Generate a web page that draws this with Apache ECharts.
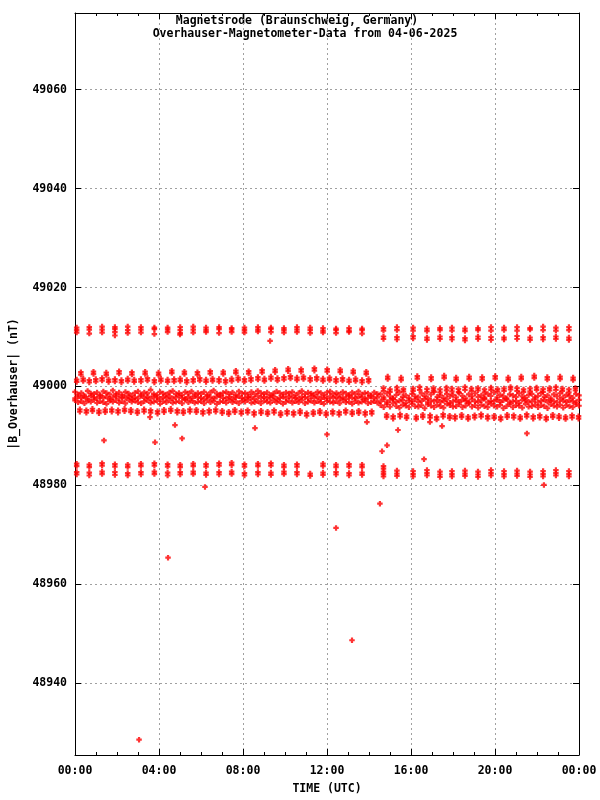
<!DOCTYPE html>
<html><head><meta charset="utf-8">
<script src="https://cdn.jsdelivr.net/npm/echarts@6/dist/echarts.min.js"></script>
<style>html,body{margin:0;padding:0;background:#fff}#c{width:600px;height:800px}</style>
</head><body><div id="c"></div>
<script>
const titleLines = ['Magnetsrode (Braunschweig, Germany)', 'Overhauser-Magnetometer-Data from 04-06-2025'];
const xTickLabels = ['00:00','04:00','08:00','12:00','16:00','20:00','00:00'];
const xName = 'TIME (UTC)';
const yName = '|B_Overhauser| (nT)';

// clump slots (hours)
const slotTimes = [0.08,0.68,1.29,1.90,2.51,3.14,3.78,4.41,5.01,5.63,6.24,6.86,7.46,8.07,8.71,9.33,9.95,10.57,11.20,11.81,12.43,13.05,13.67,14.69,15.33,16.10,16.76,17.38,17.95,18.57,19.19,19.81,20.43,21.05,21.67,22.29,22.90,23.52];
// upper band (~49011 nT)
const upperA = [49011.9,49012.0,49012.1,49012.0,49012.1,49012.0,49011.9,49011.9,49012.0,49012.1,49011.9,49012.0,49011.8,49011.9,49012.0,49011.9,49011.8,49012.0,49011.9,49011.8,49011.7,49011.8,49011.7,
  49011.8,49012.0,49011.9,49011.7,49011.8,49011.9,49011.7,49011.8,49012.0,49011.9,49012.0,49011.8,49012.1,49011.9,49012.0];
const upperB = [49011.4,49011.5,49011.5,49011.6,49011.4,49011.5,49011.6,49011.5,49011.4,49011.5,49011.4,49011.6,49011.5,49011.4,49011.5,49011.6,49011.4,49011.5,49011.4,49011.3,49011.4,49011.3,49011.4,
  49011.3,49011.4,49011.3,49011.2,49011.4,49011.3,49011.2,49011.4,49011.3,49011.4,49011.3,49011.5,49011.4,49011.3,49011.4];
const upperC = [49010.9,49010.7,49010.9,49011.0,49010.8,49010.9,49010.6,49011.0,49010.8,49010.9,49011.0,49010.8,49011.0,49010.9,49011.1,49011.0,49010.9,49011.0,49010.8,49010.9,49010.8,49011.0,49010.7,
  null,null,null,null,null,null,null,null,null,null,null,null,null,null,null];
const upperD = [null,null,null,null,null,null,null,null,null,null,null,null,null,null,null,null,null,null,null,null,null,null,null,
  49010.1,49010.0,49010.2,49009.9,49010.1,49010.0,49009.8,49010.1,49010.0,49009.9,49010.2,49009.9,49010.0,49010.1,49009.9];
const upperE = [null,null,null,null,null,null,null,null,null,null,null,null,null,null,null,null,null,null,null,null,null,null,null,
  49009.6,49009.5,49009.7,49009.4,49009.6,49009.5,49009.3,49009.6,49009.4,49009.5,49009.6,49009.4,49009.5,49009.6,49009.4];
// lower band (~48983 nT)
const lowerA = [48984.4,48984.2,48984.5,48984.3,48984.2,48984.4,48984.5,48984.3,48984.2,48984.4,48984.3,48984.5,48984.6,48984.3,48984.4,48984.5,48984.2,48984.3,null,48984.4,48984.2,48984.3,48984.2,
  48983.9,null,null,null,null,null,null,null,null,null,null,null,null,null,null];
const lowerB = [48983.9,48983.7,48984.0,48983.8,48983.7,48983.9,48984.0,48983.8,48983.7,48983.9,48983.8,48984.0,48984.1,48983.8,48983.9,48984.0,48983.7,48983.8,null,48983.9,48983.7,48983.8,48983.7,
  48983.4,null,null,null,null,null,null,null,null,null,null,null,null,null,null];
const lowerC = [48982.7,48982.6,48982.8,48982.7,48982.5,48982.7,48982.8,48982.6,48982.7,48982.8,48982.6,48982.7,48982.8,48982.5,48982.7,48982.6,48982.8,48982.7,48982.4,48982.6,48982.7,48982.5,48982.6,
  48982.8,48983.0,48982.9,48983.1,48982.8,48982.9,48983.0,48982.8,48983.1,48982.9,48983.0,48982.8,48982.9,48983.1,48982.9];
const lowerD = [48982.2,48982.0,48982.3,48982.1,48982.0,48982.2,48982.3,48982.0,48982.2,48982.3,48982.1,48982.2,48982.3,48982.0,48982.2,48982.1,48982.3,48982.2,48981.9,48982.1,48982.2,48982.0,48982.1,
  48982.3,48982.4,48982.3,48982.5,48982.2,48982.3,48982.4,48982.2,48982.5,48982.3,48982.4,48982.2,48982.3,48982.5,48982.3];
const lowerE = [null,null,null,null,null,null,null,null,null,null,null,null,null,null,null,null,null,null,null,null,null,null,null,
  48981.8,48981.9,48981.8,48982.0,48981.7,48981.8,48981.9,48981.7,48982.0,48981.8,48981.9,48981.7,48981.8,48982.0,48981.8];

// mid-high row (~49003 nT)
const midHighTimes = [0.28,0.88,1.49,2.10,2.71,3.34,3.98,4.61,5.21,5.83,6.44,7.06,7.66,8.27,8.91,9.53,10.15,10.77,11.40,12.01,12.63,13.25,13.87,14.89,15.53,16.30,16.96,17.58,18.15,18.77,19.39,20.01,20.63,21.25,21.87,22.49,23.10,23.72];
const midHighA = [49002.9,49003.0,49002.8,49003.1,49002.9,49003.0,49002.8,49003.2,49003.0,49002.9,49003.1,49003.0,49003.2,49003.1,49003.3,49003.4,49003.6,49003.5,49003.7,49003.5,49003.4,49003.2,49003.0,
  49002.0,49001.8,49002.1,49001.9,49002.2,49001.8,49002.0,49001.9,49002.1,49001.8,49002.0,49002.2,49001.9,49002.0,49001.8];
const midHighB = [49002.4,49002.5,49002.3,49002.6,49002.4,49002.5,49002.3,49002.7,49002.5,49002.4,49002.6,49002.5,49002.7,49002.6,49002.8,49002.9,49003.1,49003.0,49003.2,49003.0,49002.9,49002.7,49002.5,
  49001.5,49001.3,49001.6,49001.4,49001.7,49001.3,49001.5,49001.4,49001.6,49001.3,49001.5,49001.7,49001.4,49001.5,49001.3];

// mid row (~49001 nT)
const midTimes = [0.08,0.39,0.68,0.99,1.29,1.60,1.90,2.21,2.51,2.82,3.14,3.45,3.78,4.09,4.41,4.72,5.01,5.32,5.63,5.94,6.24,6.55,6.86,7.17,7.46,7.77,8.07,8.38,8.71,9.02,9.33,9.64,9.95,10.26,10.57,10.88,11.20,11.51,11.81,12.12,12.43,12.74,13.05,13.36,13.67,13.98,
  14.69,15.00,15.33,15.64,16.10,16.41,16.76,17.07,17.38,17.69,17.95,18.26,18.57,18.88,19.19,19.50,19.81,20.12,20.43,20.74,21.05,21.36,21.67,21.98,22.29,22.60,22.90,23.21,23.52,23.83];
const midRowA = [49001.4,49001.6,49001.3,49001.5,49001.7,49001.4,49001.5,49001.3,49001.6,49001.4,49001.5,49001.7,49001.3,49001.6,49001.4,49001.5,49001.6,49001.3,49001.5,49001.7,49001.4,49001.6,49001.5,49001.3,49001.6,49001.8,49001.5,49001.7,49001.9,49001.6,49002.0,49001.7,49001.9,49002.1,49001.8,49002.0,49001.7,49001.9,49001.6,49001.8,49001.5,49001.7,49001.4,49001.6,49001.3,49001.5,
  48999.7,48999.4,48999.8,48999.5,48999.6,48999.9,48999.5,48999.7,48999.4,48999.8,48999.6,48999.5,48999.9,48999.6,48999.7,48999.4,48999.8,48999.5,48999.6,48999.9,48999.7,48999.4,48999.6,48999.8,48999.5,48999.7,48999.9,48999.6,48999.4,48999.7];
const midRowB = [49000.9,49001.1,49000.8,49001.0,49001.2,49000.9,49001.0,49000.8,49001.1,49000.9,49001.0,49001.2,49000.8,49001.1,49000.9,49001.0,49001.1,49000.8,49001.0,49001.2,49000.9,49001.1,49001.0,49000.8,49001.1,49001.3,49001.0,49001.2,49001.4,49001.1,49001.5,49001.2,49001.4,49001.6,49001.3,49001.5,49001.2,49001.4,49001.1,49001.3,49001.0,49001.2,49000.9,49001.1,49000.8,49001.0,
  48999.1,48998.9,48999.2,48999.0,48999.1,48999.3,48998.9,48999.2,48998.8,48999.2,48999.0,48998.9,48999.3,48999.1,48999.2,48998.8,48999.3,48999.0,48999.1,48999.4,48999.1,48998.9,48999.0,48999.3,48998.9,48999.2,48999.3,48999.1,48998.8,48999.2];

// lower-mid row (~48995 nT)
const lowMidTimes = [0.23,0.54,0.83,1.14,1.44,1.75,2.05,2.36,2.66,2.97,3.29,3.60,3.93,4.24,4.56,4.87,5.16,5.47,5.78,6.09,6.39,6.70,7.01,7.32,7.61,7.92,8.22,8.53,8.86,9.17,9.48,9.79,10.10,10.41,10.72,11.03,11.35,11.66,11.96,12.27,12.58,12.89,13.20,13.51,13.82,14.13,
  14.84,15.15,15.48,15.79,16.25,16.56,16.91,17.22,17.53,17.84,18.10,18.41,18.72,19.03,19.34,19.65,19.96,20.27,20.58,20.89,21.20,21.51,21.82,22.13,22.44,22.75,23.05,23.36,23.67,23.98];
const midLowA = [48995.4,48995.2,48995.5,48995.1,48995.3,48995.4,48995.2,48995.5,48995.3,48995.1,48995.4,48995.2,48995.0,48995.3,48995.5,48995.2,48995.1,48995.4,48995.3,48995.0,48995.2,48995.4,48995.1,48994.9,48995.3,48995.0,48995.2,48994.8,48995.1,48994.9,48995.2,48994.7,48995.0,48994.8,48995.1,48994.6,48994.9,48995.1,48994.7,48995.0,48994.8,48995.2,48994.9,48995.1,48994.8,48995.0,
  48994.3,48994.0,48994.4,48994.1,48993.9,48994.3,48994.2,48993.8,48994.4,48994.1,48994.0,48994.3,48993.9,48994.2,48994.4,48994.0,48994.1,48993.8,48994.3,48994.2,48993.9,48994.4,48994.0,48994.2,48993.8,48994.3,48994.1,48993.9,48994.2,48994.0];
const midLowB = [48994.9,48994.7,48995.0,48994.6,48994.8,48994.9,48994.7,48995.0,48994.8,48994.6,48994.9,48994.7,48994.5,48994.8,48995.0,48994.7,48994.6,48994.9,48994.8,48994.5,48994.7,48994.9,48994.6,48994.4,48994.8,48994.5,48994.7,48994.3,48994.6,48994.4,48994.7,48994.2,48994.5,48994.3,48994.6,48994.1,48994.4,48994.6,48994.2,48994.5,48994.3,48994.7,48994.4,48994.6,48994.3,48994.5,
  48993.8,48993.5,48993.9,48993.6,48993.4,48993.8,48993.7,48993.3,48993.9,48993.6,48993.5,48993.8,48993.4,48993.7,48993.9,48993.5,48993.6,48993.3,48993.8,48993.7,48993.4,48993.9,48993.5,48993.7,48993.3,48993.8,48993.6,48993.4,48993.7,48993.5];

// dense main band (~48997.5 nT)
const denseTimes = [0,0.15,0.3,0.45,0.6,0.75,0.9,1.05,1.2,1.35,1.5,1.65,1.8,1.95,2.1,2.25,2.4,2.55,2.7,2.85,
  3,3.15,3.3,3.45,3.6,3.75,3.9,4.05,4.2,4.35,4.5,4.65,4.8,4.95,5.1,5.25,5.4,5.55,5.7,5.85,
  6,6.15,6.3,6.45,6.6,6.75,6.9,7.05,7.2,7.35,7.5,7.65,7.8,7.95,8.1,8.25,8.4,8.55,8.7,8.85,
  9,9.15,9.3,9.45,9.6,9.75,9.9,10.05,10.2,10.35,10.5,10.65,10.8,10.95,11.1,11.25,11.4,11.55,11.7,11.85,
  12,12.15,12.3,12.45,12.6,12.75,12.9,13.05,13.2,13.35,13.5,13.65,13.8,13.95,14.1,14.25,14.4,
  14.55,14.7,14.85,15,15.15,15.3,15.45,15.6,15.75,15.9,16.05,16.2,16.35,16.5,16.65,16.8,16.95,17.1,17.25,17.4,
  17.55,17.7,17.85,18,18.15,18.3,18.45,18.6,18.75,18.9,19.05,19.2,19.35,19.5,19.65,19.8,19.95,20.1,20.25,20.4,
  20.55,20.7,20.85,21,21.15,21.3,21.45,21.6,21.75,21.9,22.05,22.2,22.35,22.5,22.65,22.8,22.95,23.1,23.25,23.4,
  23.55,23.7,23.85,24];
const denseTop = [48998.9,48998.4,48998.7,48998.2,48999.1,48998.6,48998.5,48998.8,48998.3,48999.0,
  48998.7,48998.4,48999.2,48998.5,48998.8,48998.3,48998.9,48998.6,48998.2,48998.7,
  48999.0,48998.4,48998.8,48998.6,48999.3,48998.5,48998.3,48998.9,48998.6,48998.4,
  48998.8,48999.1,48998.5,48998.7,48998.3,48998.9,48998.6,48999.0,48998.4,48998.7,
  48998.5,48998.9,48998.3,48998.8,48999.2,48998.6,48998.4,48998.7,48998.9,48998.5,
  48998.8,48998.3,48999.0,48998.6,48998.7,48998.4,48998.9,48998.5,48999.1,48998.7,
  48998.5,48998.8,48998.3,48998.6,48999.0,48998.7,48998.4,48998.8,48998.6,48998.9,
  48998.3,48998.7,48999.1,48998.5,48998.8,48998.6,48998.4,48998.9,48998.7,48998.3,
  48998.8,48999.0,48998.5,48998.7,48998.4,48998.9,48998.6,48998.3,48998.8,48998.5,
  48999.0,48998.4,48998.7,48998.6,48998.2,48998.8,48998.5,
  48998.4,48997.8,48998.6,48998.0,48997.6,48998.3,48998.8,48997.9,48998.2,48997.7,
  48998.5,48998.0,48997.8,48998.6,48998.1,48997.6,48998.4,48998.9,48997.9,48998.2,
  48997.7,48998.5,48998.0,48998.3,48997.8,48998.7,48998.1,48997.6,48998.4,48998.0,
  48998.6,48997.9,48998.2,48997.7,48998.5,48998.1,48998.8,48997.8,48998.3,48998.0,
  48997.6,48998.4,48998.2,48997.9,48998.6,48998.0,48997.7,48998.3,48998.5,48997.8,
  48998.1,48998.7,48997.9,48998.2,48997.6,48998.4,48998.0,48998.6,48997.8,48998.3,
  48998.1,48997.7,48998.5,48998.2];
const denseMid = [48997.6,48998.0,48997.7,48997.9,48997.5,48998.1,48997.8,48997.6,48998.0,48997.7,
  48997.9,48997.5,48997.8,48998.1,48997.6,48997.9,48997.7,48998.0,48997.5,48997.8,
  48997.6,48998.1,48997.7,48997.9,48997.6,48998.0,48997.8,48997.5,48997.9,48997.7,
  48998.0,48997.6,48997.8,48998.1,48997.7,48997.5,48997.9,48997.6,48998.0,48997.8,
  48997.7,48997.5,48998.0,48997.8,48997.6,48997.9,48998.1,48997.7,48997.6,48997.9,
  48997.5,48997.8,48998.0,48997.7,48997.6,48997.9,48997.8,48997.5,48998.1,48997.7,
  48997.9,48997.6,48997.8,48998.0,48997.5,48997.7,48997.9,48997.6,48998.0,48997.8,
  48997.7,48997.5,48997.9,48997.8,48997.6,48998.1,48997.7,48997.9,48997.5,48997.8,
  48997.6,48998.0,48997.7,48997.9,48997.6,48997.8,48997.5,48998.0,48997.7,48997.6,
  48997.9,48997.8,48997.5,48997.7,48998.0,48997.6,48997.8,
  48997.0,48997.4,48996.8,48997.2,48997.5,48996.9,48997.1,48997.3,48996.7,48997.2,
  48997.0,48997.4,48996.9,48997.1,48997.5,48996.8,48997.2,48997.0,48997.3,48996.9,
  48997.1,48997.4,48996.7,48997.0,48997.2,48996.9,48997.3,48997.1,48996.8,48997.4,
  48997.0,48996.9,48997.2,48997.5,48996.8,48997.1,48997.0,48997.3,48996.9,48997.2,
  48997.4,48996.8,48997.0,48997.1,48996.7,48997.3,48997.2,48996.9,48997.0,48997.4,
  48996.8,48997.1,48997.3,48996.9,48997.2,48997.0,48996.8,48997.4,48997.1,48996.9,
  48997.2,48997.0,48996.8,48997.3];
const denseBot = [48997.2,48996.8,48997.0,48996.6,48997.1,48996.9,48997.3,48996.7,48997.0,48996.8,
  48996.5,48997.1,48996.9,48997.2,48996.7,48997.0,48996.6,48997.3,48996.9,48997.1,
  48996.8,48996.6,48997.0,48997.2,48996.7,48996.9,48997.1,48996.5,48997.0,48996.8,
  48997.2,48996.7,48996.9,48997.0,48996.6,48997.3,48996.8,48997.1,48996.7,48996.9,
  48997.0,48996.6,48997.2,48996.8,48997.1,48996.5,48996.9,48997.0,48996.7,48997.2,
  48996.8,48997.0,48996.6,48997.1,48996.9,48997.3,48996.7,48996.8,48997.0,48996.6,
  48997.1,48996.9,48996.7,48997.2,48996.8,48997.0,48996.5,48996.9,48997.1,48996.7,
  48997.0,48996.8,48997.2,48996.6,48996.9,48997.1,48996.7,48997.0,48996.8,48996.5,
  48997.1,48996.9,48996.7,48997.0,48996.6,48997.2,48996.8,48996.9,48996.5,48997.0,
  48996.7,48996.9,48997.1,48996.6,48996.8,48997.0,48996.7,
  48996.2,48995.8,48996.4,48995.9,48996.6,48996.0,48995.7,48996.3,48996.1,48995.8,
  48996.5,48996.0,48995.9,48996.2,48995.6,48996.4,48996.1,48995.8,48996.3,48996.0,
  48995.7,48996.5,48996.2,48995.9,48996.0,48996.4,48995.8,48996.1,48996.6,48995.9,
  48996.2,48995.7,48996.3,48996.0,48995.8,48996.5,48996.1,48995.9,48996.3,48995.6,
  48996.0,48996.4,48995.8,48996.2,48996.1,48995.7,48996.5,48995.9,48996.0,48996.3,
  48995.8,48996.2,48996.0,48995.6,48996.4,48996.1,48995.9,48996.3,48995.7,48996.2,
  48996.0,48995.8,48996.4,48996.1];

// isolated readings
const outlierTimes = [3.05,4.43,13.19,12.43,14.52,1.38,3.81,4.76,5.10,6.19,9.29,8.57,12.00,15.38,14.86,14.62,16.62,21.52,17.48,22.33,3.57,5.00,13.90,16.90,1.90];
const outlierValues = [48928.6,48965.4,48948.7,48971.4,48976.3,48989.1,48988.7,48992.2,48989.5,48979.7,49009.2,48991.6,48990.3,48991.2,48988.1,48986.9,48985.3,48990.5,48992.0,48980.1,48993.8,49010.5,48992.8,48992.8,49010.3];

function addPts(out, times, vals) {
  for (let i = 0; i < times.length; i++) if (vals[i] !== null && vals[i] !== undefined) out.push([times[i], vals[i]]);
}
const points = [];
[upperA, upperB, upperC, upperD, upperE, lowerA, lowerB, lowerC, lowerD, lowerE].forEach(r => addPts(points, slotTimes, r));
[midHighA, midHighB].forEach(r => addPts(points, midHighTimes, r));
[midRowA, midRowB].forEach(r => addPts(points, midTimes, r));
[midLowA, midLowB].forEach(r => addPts(points, lowMidTimes, r));
[denseTop, denseMid, denseBot].forEach(r => addPts(points, denseTimes, r));
addPts(points, outlierTimes, outlierValues);

const FONT = 'DejaVu Sans Mono';
const textStyle = { color: '#000', fontFamily: FONT, fontWeight: 'bold', fontSize: 11.5 };
const gridDash = { color: '#a0a0a0', width: 1, type: [2, 3] };
const black = { color: '#000', width: 1 };
const PLUS = 'path://M3,0H7V3H10V7H7V10H3V7H0V3H3Z';
const Y_MIN = 48925.5, Y_MAX = 49075.5;

const chart = echarts.init(document.getElementById('c'), null, { renderer: 'canvas' });
chart.setOption({
  animation: false,
  backgroundColor: '#fff',
  grid: { left: 75, top: 13, width: 504, height: 749, show: false },
  graphic: [
    { type: 'text', x: 297, y: 21, style: { text: titleLines[0], textAlign: 'center', textVerticalAlign: 'middle', verticalAlign: 'middle', font: 'bold 11.5px "' + FONT + '"', fill: '#000' } },
    { type: 'text', x: 305, y: 34, style: { text: titleLines[1], textAlign: 'center', textVerticalAlign: 'middle', verticalAlign: 'middle', font: 'bold 11.5px "' + FONT + '"', fill: '#000' } }
  ],
  xAxis: [
    { type: 'value', min: 0, max: 24, interval: 4, position: 'bottom',
      axisLine: { show: true, onZero: false, lineStyle: black },
      axisTick: { show: true, inside: true, length: 6, lineStyle: black },
      minorTick: { show: true, splitNumber: 4, length: 3, lineStyle: black },
      axisLabel: Object.assign({ margin: 10, formatter: v => xTickLabels[Math.round(v / 4)] }, textStyle),
      splitLine: { show: true, lineStyle: gridDash },
      name: xName, nameLocation: 'middle', nameGap: 28, nameTextStyle: textStyle },
    { type: 'value', min: 0, max: 24, interval: 4, position: 'top',
      axisLine: { show: true, onZero: false, lineStyle: black },
      axisTick: { show: true, inside: true, length: 6, lineStyle: black },
      minorTick: { show: true, splitNumber: 4, length: 3, lineStyle: black },
      axisLabel: { show: false }, splitLine: { show: false } }
  ],
  yAxis: [
    { type: 'value', min: Y_MIN, max: Y_MAX, splitNumber: 7, position: 'left',
      axisLine: { show: true, onZero: false, lineStyle: black },
      axisTick: { show: true, inside: true, length: 6, lineStyle: black },
      axisLabel: Object.assign({ margin: 8, showMinLabel: false, showMaxLabel: false, formatter: v => String(v) }, textStyle),
      splitLine: { show: true, lineStyle: gridDash },
      name: yName, nameLocation: 'middle', nameGap: 55, nameRotate: 90, nameTextStyle: textStyle },
    { type: 'value', min: Y_MIN, max: Y_MAX, splitNumber: 7, position: 'right',
      axisLine: { show: true, onZero: false, lineStyle: black },
      axisTick: { show: true, inside: true, length: 6, lineStyle: black },
      axisLabel: { show: false }, splitLine: { show: false } }
  ],
  series: [{
    type: 'scatter', xAxisIndex: 0, yAxisIndex: 0,
    symbol: PLUS, symbolSize: 5.5,
    itemStyle: { color: '#ff0000' },
    data: points, silent: true, large: false
  }]
});
</script></body></html>
